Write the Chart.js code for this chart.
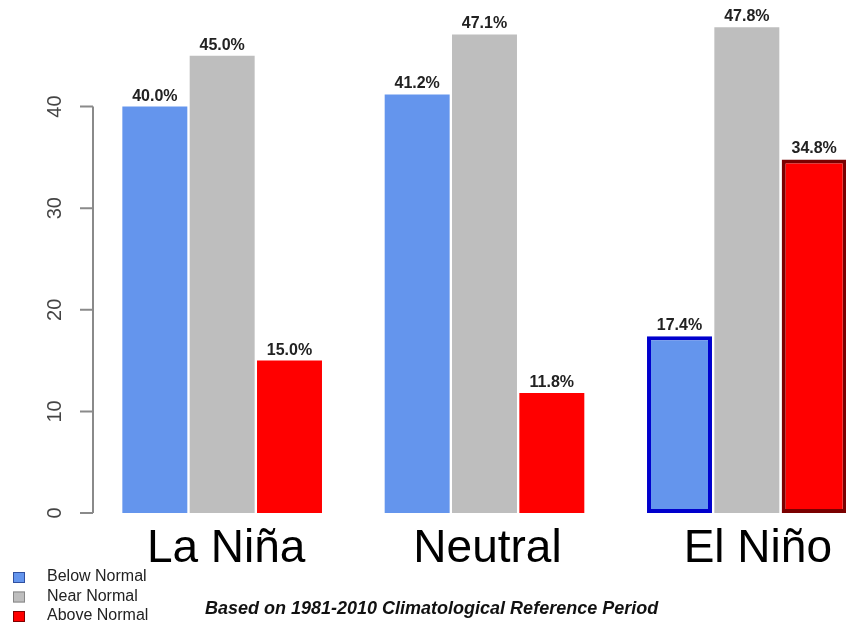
<!DOCTYPE html>
<html>
<head>
<meta charset="utf-8">
<script src="https://cdn.jsdelivr.net/npm/chart.js@4.4.1/dist/chart.umd.min.js"></script>
<style>
    html, body { margin: 0; padding: 0; background: #fff; overflow: hidden; }
    #wrap { width: 880px; height: 630px; }
</style>
</head>
<body>
<div id="wrap"><canvas id="enso" width="880" height="630"></canvas></div>
<script>
// Data
const phases = ['La Niña', 'Neutral', 'El Niño'];
const belowNormal = [40.0, 41.2, 17.4];
const nearNormal = [45.0, 47.1, 47.8];
const aboveNormal = [15.0, 11.8, 34.8];
const yTicks = [0, 10, 20, 30, 40];
const seriesNames = ['Below Normal', 'Near Normal', 'Above Normal'];
const footnote = 'Based on 1981-2010 Climatological Reference Period';

const FONT = '"Liberation Sans", Arial, sans-serif';

// R-style axis, value labels, category names, legend and footnote
const decorations = {
    id: 'decorations',
    afterDatasetsDraw(chart) {
        const ctx = chart.ctx;
        const y = chart.scales.y;
        const x = chart.scales.x;
        const axisX = chart.chartArea.left + 2;

        ctx.save();

        // y axis
        ctx.strokeStyle = '#8a8a8a';
        ctx.lineWidth = 2;
        ctx.beginPath();
        ctx.moveTo(axisX, y.getPixelForValue(yTicks[0]));
        ctx.lineTo(axisX, y.getPixelForValue(yTicks[yTicks.length - 1]));
        yTicks.forEach(t => {
            const py = y.getPixelForValue(t);
            ctx.moveTo(axisX, py);
            ctx.lineTo(axisX - 13, py);
        });
        ctx.stroke();

        ctx.fillStyle = '#444';
        ctx.font = '20px ' + FONT;
        ctx.textAlign = 'center';
        ctx.textBaseline = 'middle';
        yTicks.forEach(t => {
            ctx.save();
            ctx.translate(55, y.getPixelForValue(t));
            ctx.rotate(-Math.PI / 2);
            ctx.fillText(String(t), 0, 0);
            ctx.restore();
        });

        // value labels
        ctx.fillStyle = '#222';
        ctx.font = 'bold 16px ' + FONT;
        ctx.textAlign = 'center';
        ctx.textBaseline = 'alphabetic';
        chart.data.datasets.forEach((ds, i) => {
            chart.getDatasetMeta(i).data.forEach((bar, j) => {
                ctx.fillText(ds.data[j].toFixed(1) + '%', bar.x, bar.y - 6);
            });
        });

        // category names (the last one sits a little further right)
        const nudge = [4, 3, 11];
        ctx.fillStyle = '#000';
        ctx.font = '46px ' + FONT;
        chart.data.labels.forEach((lab, i) => {
            ctx.fillText(lab, x.getPixelForValue(i) + nudge[i], 562);
        });

        // legend
        ctx.font = '16px ' + FONT;
        ctx.textAlign = 'left';
        ctx.textBaseline = 'middle';
        chart.data.datasets.forEach((ds, i) => {
            const ly = 577 + i * 19.5;
            ctx.fillStyle = ds.backgroundColor;
            ctx.fillRect(13, ly - 5, 12, 11);
            ctx.strokeStyle = ds.legendBorder;
            ctx.lineWidth = 1;
            ctx.strokeRect(13.5, ly - 4.5, 11, 10);
            ctx.fillStyle = '#222';
            ctx.fillText(ds.label, 47, ly);
        });

        // footnote
        ctx.font = 'italic bold 18px ' + FONT;
        ctx.fillStyle = '#111';
        ctx.fillText(footnote, 205, 609);

        ctx.restore();
    }
};

new Chart(document.getElementById('enso'), {
    type: 'bar',
    data: {
        labels: phases,
        datasets: [
            {
                label: seriesNames[0],
                data: belowNormal,
                backgroundColor: '#6495ED',
                borderColor: '#0000CD',
                borderWidth: [0, 0, 4],
                legendBorder: '#3050a0'
            },
            {
                label: seriesNames[1],
                data: nearNormal,
                backgroundColor: '#BEBEBE',
                borderColor: '#BEBEBE',
                borderWidth: 0,
                legendBorder: '#888'
            },
            {
                label: seriesNames[2],
                data: aboveNormal,
                backgroundColor: '#FF0000',
                borderColor: '#7A0000',
                borderWidth: [0, 0, 4],
                legendBorder: '#800000'
            }
        ]
    },
    options: {
        responsive: false,
        animation: false,
        layout: {
            padding: { left: 91, right: 2, top: 5, bottom: 117 }
        },
        datasets: {
            bar: {
                categoryPercentage: 0.77,
                barPercentage: 0.965,
                borderSkipped: false
            }
        },
        scales: {
            x: { display: false },
            y: { display: false, min: 0, max: 50 }
        },
        plugins: {
            legend: { display: false },
            tooltip: { enabled: false }
        }
    },
    plugins: [decorations]
});
</script>
</body>
</html>
